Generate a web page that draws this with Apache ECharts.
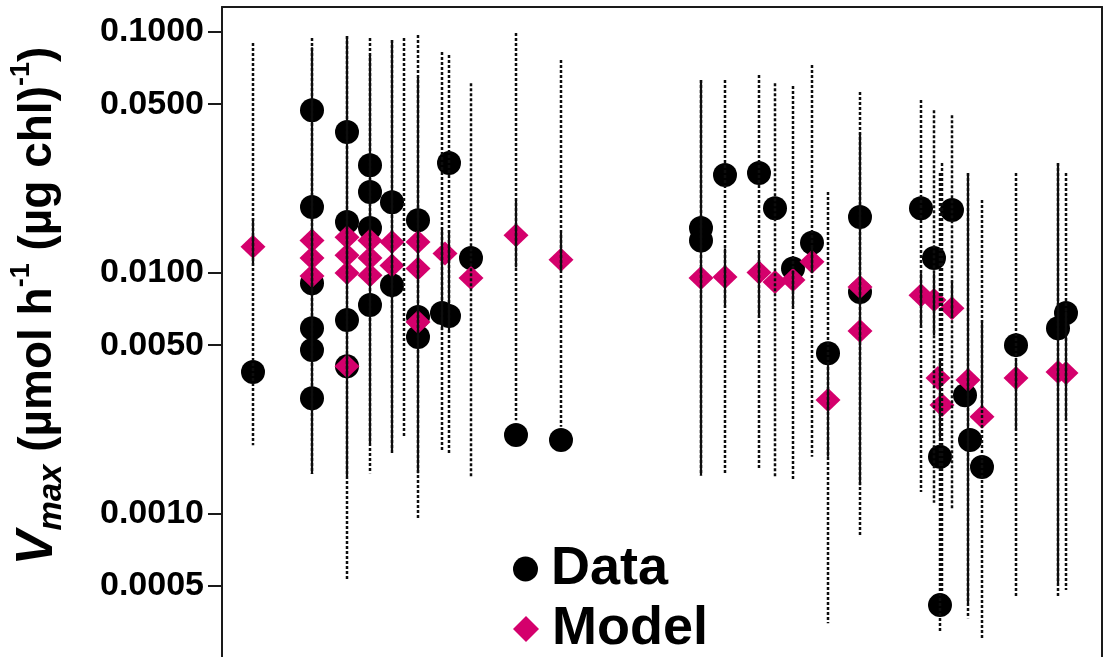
<!DOCTYPE html>
<html>
<head>
<meta charset="utf-8">
<script src="https://cdn.jsdelivr.net/npm/echarts@6/dist/echarts.min.js"></script>
<style>
html,body{margin:0;padding:0;background:#fff;}
#c{width:1108px;height:657px;}
</style>
</head>
<body>
<div id="c"></div>
<script>
// Sample positions (arbitrary x units) of each column of ranges
const colX     = [3.1, 9.0, 12.5, 14.8, 17.0, 18.2, 19.6, 22.0, 22.7, 24.9, 29.4, 33.9, 47.9, 50.3, 53.7, 55.3, 57.1, 59.0, 60.6, 63.8, 69.9, 71.2, 71.8, 72.0, 73.0, 74.6, 76.0, 79.4, 83.6, 84.4];
// Outer (dotted) range
const dotHi    = [0.0896, 0.094, 0.0958, 0.094, 0.0922, 0.094, 0.0967, 0.0822, 0.0799, 0.0611, 0.0986, 0.0762, 0.0629, 0.0629, 0.066, 0.0611, 0.0594, 0.0726, 0.0216, 0.0561, 0.052, 0.0472, 0.0259, 0.0285, 0.045, 0.0259, 0.02, 0.0259, 0.0285, 0.0259];
const dotLo    = [0.00192, 0.00146, 0.00053, 0.00147, 0.00175, 0.00208, 0.00094, 0.0018, 0.00175, 0.00142, 0.00244, 0.00229, 0.00144, 0.00147, 0.00154, 0.00142, 0.00138, 0.00172, 0.000351, 0.000814, 0.00123, 0.00111, 0.000322, 0.00047, 0.00105, 0.000368, 0.000299, 0.00045, 0.000446, 0.000482];
// Inner (solid) range, null where absent
const solidHi  = [0.0168, 0.0862, 0.0958, 0.0799, 0.0922, null, 0.0648, 0.0153, 0.015, null, 0.02, 0.0146, 0.0629, 0.0126, 0.0124, null, 0.0102, 0.0128, 0.00421, 0.0379, 0.00995, 0.00995, 0.00433, null, 0.0093, 0.0259, 0.00635, 0.00433, 0.0285, 0.0069];
const solidLo  = [0.0107, 0.00146, 0.00143, 0.00196, 0.00183, null, 0.00147, 0.00577, 0.00577, null, 0.0105, 0.0102, 0.00144, 0.0072, 0.0065, null, 0.0072, 0.01, 0.00172, 0.00131, 0.0059, 0.0055, 0.00206, null, 0.0065, 0.000425, 0.00282, 0.00222, 0.000515, 0.00244];

// Measured values [x, Vmax]
const dataPoints = [
  [3.1, 0.00387],
  [9.0, 0.0472], [9.0, 0.0187], [9.0, 0.00904], [9.0, 0.00588], [9.0, 0.00477], [9.0, 0.00301],
  [12.5, 0.0383], [12.5, 0.0162], [12.5, 0.00635], [12.5, 0.00409],
  [14.8, 0.0279], [14.8, 0.0216], [14.8, 0.0153], [14.8, 0.00733],
  [17.0, 0.0196], [17.0, 0.00887],
  [19.6, 0.0165], [19.6, 0.00654], [19.6, 0.0054],
  [22.0, 0.00679], [22.7, 0.0285], [22.7, 0.0066],
  [24.9, 0.0115],
  [29.4, 0.00212], [33.9, 0.00202],
  [47.9, 0.0153], [47.9, 0.0136],
  [50.3, 0.0254], [53.7, 0.0259], [55.3, 0.0185], [57.1, 0.0104], [59.0, 0.0133],
  [60.6, 0.00463], [63.8, 0.017], [63.8, 0.0083],
  [69.9, 0.0185], [71.2, 0.0115], [71.8, 0.00172], [71.8, 0.000417], [73.0, 0.0182],
  [74.3, 0.0031], [74.8, 0.00202], [76.0, 0.00156], [79.4, 0.005],
  [83.6, 0.00588], [84.4, 0.00679]
];
// Model values [x, Vmax]
const modelPoints = [
  [3.1, 0.0128],
  [9.0, 0.0136], [9.0, 0.0115], [9.0, 0.00967],
  [12.5, 0.014], [12.5, 0.0118], [12.5, 0.00995], [12.5, 0.00409],
  [14.8, 0.0136], [14.8, 0.0115], [14.8, 0.00976],
  [17.0, 0.0134], [17.0, 0.0107],
  [19.6, 0.0134], [19.6, 0.0104], [19.6, 0.00623],
  [22.3, 0.012], [24.9, 0.00949],
  [29.4, 0.0143], [33.9, 0.0113],
  [47.9, 0.00949], [50.3, 0.00958], [53.7, 0.01], [55.3, 0.00913], [57.1, 0.00931], [59.0, 0.0111],
  [60.6, 0.00296], [63.8, 0.00871], [63.8, 0.00572],
  [69.9, 0.00806], [71.2, 0.00769], [71.6, 0.00365], [72.0, 0.00282], [73.0, 0.00712],
  [74.6, 0.00358], [76.0, 0.00252], [79.4, 0.00365], [83.6, 0.00387], [84.4, 0.00383]
];
const tickValues = [0.1, 0.05, 0.01, 0.005, 0.001, 0.0005];
const yMin = 0.000254, yMax = 0.1265;
const xMin = 0, xMax = 88;

const L = Math.log10;
const dotData = colX.map((x, i) => [x, L(dotLo[i]), L(dotHi[i])]);
const solidData = [];
colX.forEach((x, i) => { if (solidHi[i] != null) solidData.push([x, L(solidLo[i]), L(solidHi[i])]); });

function whisker(dash, width) {
  return function (params, api) {
    const x = api.value(0);
    const p1 = api.coord([x, api.value(2)]);
    const p2 = api.coord([x, api.value(1)]);
    const px = Math.round(p1[0]);
    return {
      type: 'line',
      shape: { x1: px, y1: p1[1], x2: px, y2: p2[1] },
      style: { stroke: '#0d0d0d', lineWidth: width, lineDash: dash }
    };
  };
}

const chart = echarts.init(document.getElementById('c'), null, { renderer: 'canvas' });
const FONT = 'Liberation Sans, Arial, Helvetica, sans-serif';
const frameLine = { show: true, lineStyle: { color: '#1a1a1a', width: 2 } };
const legendText = { fontFamily: FONT, fontWeight: 'bold', fontSize: 54, color: '#000', lineHeight: 25, padding: [0, 0, 0, 8] };
chart.setOption({
  animation: false,
  backgroundColor: '#fff',
  grid: { left: 222, right: 6, top: 7, bottom: 0 },
  xAxis: {
    type: 'value', min: xMin, max: xMax, position: 'top',
    axisLine: frameLine, axisTick: { show: false }, axisLabel: { show: false }, splitLine: { show: false }
  },
  yAxis: [{
    type: 'value', min: L(yMin), max: L(yMax),
    axisLine: frameLine,
    splitLine: { show: false },
    axisTick: { show: true, inside: false, length: 14, lineStyle: { color: '#1a1a1a', width: 2 }, customValues: tickValues.map(L) },
    axisLabel: {
      customValues: tickValues.map(L), margin: 18,
      fontFamily: FONT, fontWeight: 'bold', fontSize: 34, color: '#000',
      formatter: v => Math.pow(10, v).toFixed(4)
    }
  }, {
    type: 'value', min: L(yMin), max: L(yMax), position: 'right',
    axisLine: frameLine, axisTick: { show: false }, axisLabel: { show: false }, splitLine: { show: false }
  }],
  legend: [{
    orient: 'vertical', left: 508, top: 537, itemWidth: 25, itemHeight: 25,
    textStyle: legendText, data: ['Data']
  }, {
    orient: 'vertical', left: 508, top: 597, itemWidth: 26, itemHeight: 26,
    textStyle: legendText, data: ['Model']
  }],
  graphic: [{
    type: 'text', x: 38, y: 306, rotation: Math.PI / 2, silent: true,
    style: {
      text: '{v|V}{sub|max}{n| (µmol h}{sup|-1}{n| (µg chl)}{sup|-1}{n|)}',
      align: 'center', verticalAlign: 'middle', fill: '#000',
      rich: {
        v: { fontFamily: FONT, fontSize: 52, fontWeight: 'bold', fontStyle: 'italic', lineHeight: 60, verticalAlign: 'middle' },
        sub: { fontFamily: FONT, fontSize: 33, fontWeight: 'bold', fontStyle: 'italic', lineHeight: 18, verticalAlign: 'bottom' },
        n: { fontFamily: FONT, fontSize: 46, fontWeight: 'bold', lineHeight: 60, verticalAlign: 'middle' },
        sup: { fontFamily: FONT, fontSize: 27, fontWeight: 'bold', lineHeight: 20, verticalAlign: 'top' }
      }
    }
  }],
  series: [
    {
      name: 'Data', type: 'scatter', symbol: 'circle', symbolSize: 24,
      itemStyle: { color: '#000', opacity: 1 },
      data: dataPoints.map(p => [p[0], L(p[1])]), z: 2
    },
    {
      name: 'Model', type: 'scatter', symbol: 'diamond', symbolSize: [25, 24],
      itemStyle: { color: '#D4006C', opacity: 1 },
      data: modelPoints.map(p => [p[0], L(p[1])]), z: 3
    },
    { name: 'dotted', type: 'custom', renderItem: whisker([3, 2], 2.5), data: dotData, encode: { x: 0, y: [1, 2] }, silent: true, z: 4 },
    { name: 'solid', type: 'custom', renderItem: whisker(null, 2.2), data: solidData, encode: { x: 0, y: [1, 2] }, silent: true, z: 5 }
  ]
});
</script>
</body>
</html>
